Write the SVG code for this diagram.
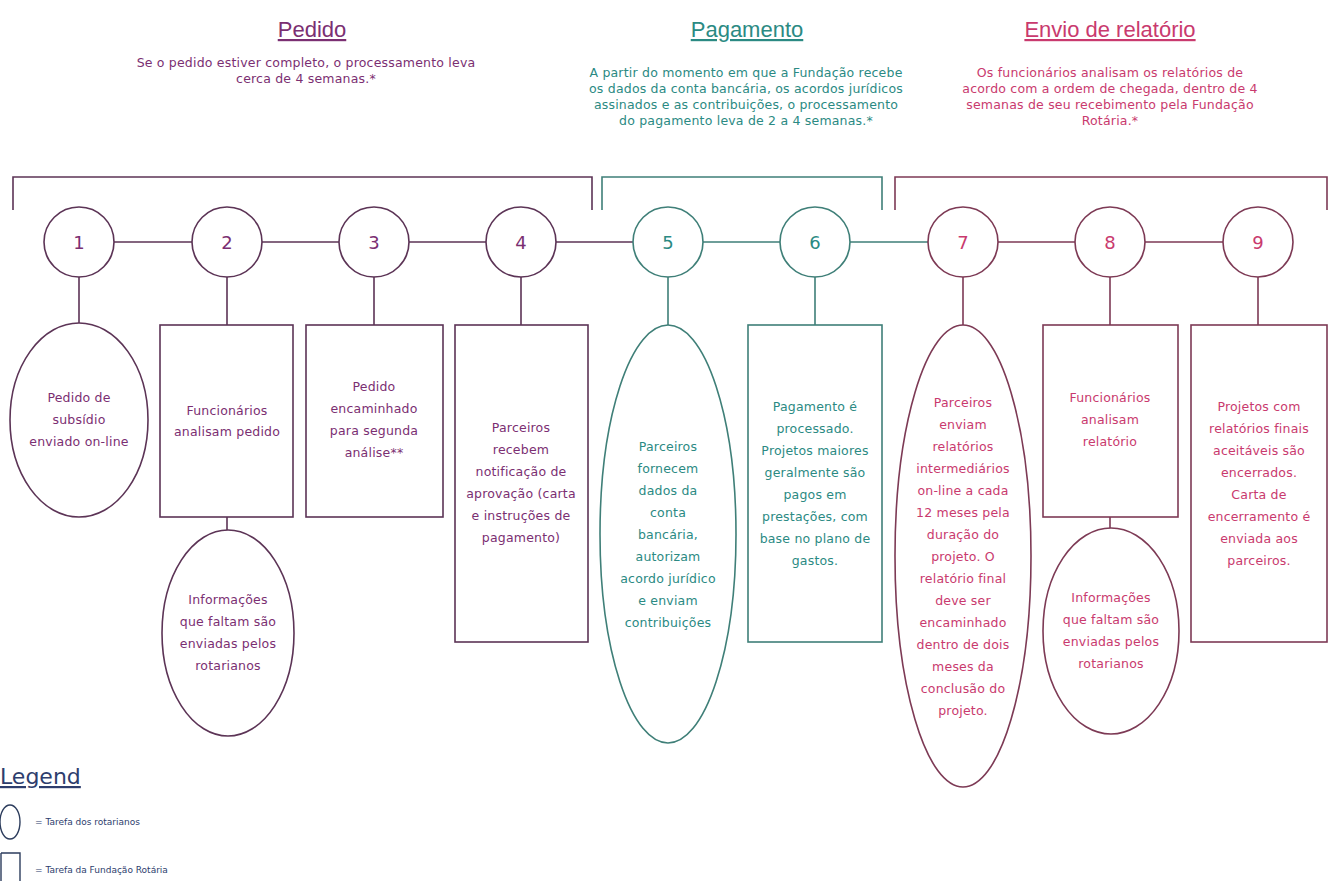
<svg xmlns="http://www.w3.org/2000/svg" width="1333" height="881" viewBox="0 0 1333 881">
<style>
text{font-family:"DejaVu Sans","Liberation Sans",sans-serif;}
.t{font-size:12.5px;text-anchor:middle;letter-spacing:0.2px;}
.title{font-family:"Liberation Sans",Arial,sans-serif;font-size:22px;text-anchor:middle;text-decoration:underline;}
.num{font-size:18px;text-anchor:middle;}
.p{fill:#7b2f72;}
.g{fill:#2b8a83;}
.k{fill:#c93a6e;}
.sp{stroke:#5c3456;fill:#fff;stroke-width:1.6;}
.sg{stroke:#3f7f78;fill:#fff;stroke-width:1.6;}
.sk{stroke:#7d3a55;fill:#fff;stroke-width:1.6;}
.lp{stroke:#5c3456;fill:none;stroke-width:1.6;}
.lg{stroke:#3f7f78;fill:none;stroke-width:1.6;}
.lk{stroke:#7d3a55;fill:none;stroke-width:1.6;}
.leg{font-size:9px;fill:#2d3d6d;}
</style>
<rect width="1333" height="881" fill="#fff"/>

<g id="headers">
<text class="title p" x="312" y="37">Pedido</text>
<text class="t p" x="306"><tspan x="306" y="67">Se o pedido estiver completo, o processamento leva</tspan><tspan x="306" y="83">cerca de 4 semanas.*</tspan></text>
<text class="title g" x="747" y="37">Pagamento</text>
<text class="t g"><tspan x="746" y="77">A partir do momento em que a Fundação recebe</tspan><tspan x="746" y="93">os dados da conta bancária, os acordos jurídicos</tspan><tspan x="746" y="109">assinados e as contribuições, o processamento</tspan><tspan x="746" y="125">do pagamento leva de 2 a 4 semanas.*</tspan></text>
<text class="title k" x="1110" y="37">Envio de relatório</text>
<text class="t k"><tspan x="1110" y="77">Os funcionários analisam os relatórios de</tspan><tspan x="1110" y="93">acordo com a ordem de chegada, dentro de 4</tspan><tspan x="1110" y="109">semanas de seu recebimento pela Fundação</tspan><tspan x="1110" y="125">Rotária.*</tspan></text>
</g>

<g id="brackets">
<path class="lp" d="M13,210 V177 H592 V210"/>
<path class="lg" d="M602,210 V177 H882 V210"/>
<path class="lk" d="M895,210 V177 H1327 V210"/>
</g>

<g id="connectors">
<path class="lp" d="M114,242 H192 M262,242 H339 M409,242 H486 M556,242 H633"/>
<path class="lg" d="M703,242 H780 M850,242 H928"/>
<path class="lk" d="M998,242 H1075 M1145,242 H1223"/>
<path class="lp" d="M79,277 V323 M227,277 V325 M374,277 V325 M521,277 V325 M227,517 V530"/>
<path class="lg" d="M668,277 V325 M815,277 V325"/>
<path class="lk" d="M963,277 V325 M1110,277 V325 M1258,277 V325 M1110,517 V528"/>
</g>

<g id="step1"><circle class="sp" cx="79" cy="242" r="35"/><text class="num p" x="79" y="249">1</text></g>
<g id="step2"><circle class="sp" cx="227" cy="242" r="35"/><text class="num p" x="227" y="249">2</text></g>
<g id="step3"><circle class="sp" cx="374" cy="242" r="35"/><text class="num p" x="374" y="249">3</text></g>
<g id="step4"><circle class="sp" cx="521" cy="242" r="35"/><text class="num p" x="521" y="249">4</text></g>
<g id="step5"><circle class="sg" cx="668" cy="242" r="35"/><text class="num g" x="668" y="249">5</text></g>
<g id="step6"><circle class="sg" cx="815" cy="242" r="35"/><text class="num g" x="815" y="249">6</text></g>
<g id="step7"><circle class="sk" cx="963" cy="242" r="35"/><text class="num k" x="963" y="249">7</text></g>
<g id="step8"><circle class="sk" cx="1110" cy="242" r="35"/><text class="num k" x="1110" y="249">8</text></g>
<g id="step9"><circle class="sk" cx="1258" cy="242" r="35"/><text class="num k" x="1258" y="249">9</text></g>

<g id="task1"><ellipse class="sp" cx="79" cy="420" rx="69" ry="97"/>
<text class="t p"><tspan x="79" y="402">Pedido de</tspan><tspan x="79" y="424">subsídio</tspan><tspan x="79" y="446">enviado on-line</tspan></text></g>

<g id="task2"><rect class="sp" x="160" y="325" width="133" height="192"/>
<text class="t p"><tspan x="227" y="415">Funcionários</tspan><tspan x="227" y="436">analisam pedido</tspan></text></g>

<g id="task2b"><ellipse class="sp" cx="228" cy="633" rx="66" ry="103"/>
<text class="t p"><tspan x="228" y="604">Informações</tspan><tspan x="228" y="626">que faltam são</tspan><tspan x="228" y="648">enviadas pelos</tspan><tspan x="228" y="670">rotarianos</tspan></text></g>

<g id="task3"><rect class="sp" x="306" y="325" width="137" height="192"/>
<text class="t p"><tspan x="374" y="391">Pedido</tspan><tspan x="374" y="413">encaminhado</tspan><tspan x="374" y="435">para segunda</tspan><tspan x="374" y="457">análise**</tspan></text></g>

<g id="task4"><rect class="sp" x="455" y="325" width="133" height="317"/>
<text class="t p"><tspan x="521" y="432">Parceiros</tspan><tspan x="521" y="454">recebem</tspan><tspan x="521" y="476">notificação de</tspan><tspan x="521" y="498">aprovação (carta</tspan><tspan x="521" y="520">e instruções de</tspan><tspan x="521" y="542">pagamento)</tspan></text></g>

<g id="task5"><ellipse class="sg" cx="668" cy="534" rx="68" ry="209"/>
<text class="t g"><tspan x="668" y="451">Parceiros</tspan><tspan x="668" y="473">fornecem</tspan><tspan x="668" y="495">dados da</tspan><tspan x="668" y="517">conta</tspan><tspan x="668" y="539">bancária,</tspan><tspan x="668" y="561">autorizam</tspan><tspan x="668" y="583">acordo jurídico</tspan><tspan x="668" y="605">e enviam</tspan><tspan x="668" y="627">contribuições</tspan></text></g>

<g id="task6"><rect class="sg" x="748" y="325" width="134" height="317"/>
<text class="t g"><tspan x="815" y="411">Pagamento é</tspan><tspan x="815" y="433">processado.</tspan><tspan x="815" y="455">Projetos maiores</tspan><tspan x="815" y="477">geralmente são</tspan><tspan x="815" y="499">pagos em</tspan><tspan x="815" y="521">prestações, com</tspan><tspan x="815" y="543">base no plano de</tspan><tspan x="815" y="565">gastos.</tspan></text></g>

<g id="task7"><ellipse class="sk" cx="963" cy="556" rx="68" ry="231"/>
<text class="t k"><tspan x="963" y="407">Parceiros</tspan><tspan x="963" y="429">enviam</tspan><tspan x="963" y="451">relatórios</tspan><tspan x="963" y="473">intermediários</tspan><tspan x="963" y="495">on-line a cada</tspan><tspan x="963" y="517">12 meses pela</tspan><tspan x="963" y="539">duração do</tspan><tspan x="963" y="561">projeto. O</tspan><tspan x="963" y="583">relatório final</tspan><tspan x="963" y="605">deve ser</tspan><tspan x="963" y="627">encaminhado</tspan><tspan x="963" y="649">dentro de dois</tspan><tspan x="963" y="671">meses da</tspan><tspan x="963" y="693">conclusão do</tspan><tspan x="963" y="715">projeto.</tspan></text></g>

<g id="task8"><rect class="sk" x="1043" y="325" width="135" height="192"/>
<text class="t k"><tspan x="1110" y="402">Funcionários</tspan><tspan x="1110" y="424">analisam</tspan><tspan x="1110" y="446">relatório</tspan></text></g>

<g id="task8b"><ellipse class="sk" cx="1111" cy="631" rx="68" ry="103"/>
<text class="t k"><tspan x="1111" y="602">Informações</tspan><tspan x="1111" y="624">que faltam são</tspan><tspan x="1111" y="646">enviadas pelos</tspan><tspan x="1111" y="668">rotarianos</tspan></text></g>

<g id="task9"><rect class="sk" x="1191" y="325" width="136" height="317"/>
<text class="t k"><tspan x="1259" y="411">Projetos com</tspan><tspan x="1259" y="433">relatórios finais</tspan><tspan x="1259" y="455">aceitáveis são</tspan><tspan x="1259" y="477">encerrados.</tspan><tspan x="1259" y="499">Carta de</tspan><tspan x="1259" y="521">encerramento é</tspan><tspan x="1259" y="543">enviada aos</tspan><tspan x="1259" y="565">parceiros.</tspan></text></g>

<g id="legend">
<text x="0" y="784" font-family="Liberation Sans, Arial, sans-serif" font-size="22" fill="#2d3d6d" text-decoration="underline">Legend</text>
<ellipse cx="10" cy="822" rx="10" ry="17" fill="none" stroke="#2d3d5d" stroke-width="1.4"/>
<text class="leg" x="35" y="825">= Tarefa dos rotarianos</text>
<path d="M1,853 H20 V884 M1,853 V884" fill="none" stroke="#2d3d5d" stroke-width="1.4"/>
<text class="leg" x="35" y="873">= Tarefa da Fundação Rotária</text>
</g>
</svg>
